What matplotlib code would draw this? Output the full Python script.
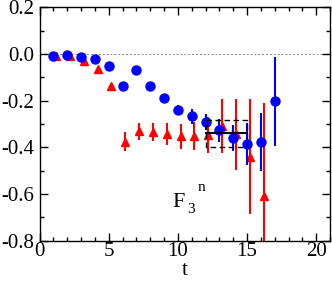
import matplotlib
matplotlib.use("Agg")
import matplotlib.pyplot as plt
from matplotlib.ticker import MultipleLocator, FuncFormatter

plt.rcParams['font.family'] = ['Liberation Serif', 'DejaVu Serif']

t_blue = [1, 2, 3, 4, 5, 6, 7, 8, 9, 10, 11, 12, 13, 14, 15, 16, 17]
y_blue = [-0.006, -0.002, -0.011, -0.021, -0.049, -0.137, -0.067, -0.137, -0.19, -0.239,
          -0.267, -0.29, -0.327, -0.361, -0.386, -0.376, -0.203]
e_blue = [0.004, 0.004, 0.005, 0.006, 0.007, 0.015, 0.01, 0.012, 0.016, 0.022,
          0.033, 0.035, 0.05, 0.055, 0.09, 0.125, 0.19]

t_red = [1.2, 2.2, 3.2, 4.2, 5.2, 6.2, 7.2, 8.2, 9.2, 10.2, 11.2, 12.2, 13.2, 14.2, 15.2, 16.2]
y_red = [-0.006, -0.01, -0.03, -0.063, -0.138, -0.376, -0.331, -0.334, -0.344, -0.353,
         -0.35, -0.346, -0.307, -0.343, -0.439, -0.61]
e_red = [0.003, 0.004, 0.005, 0.006, 0.008, 0.04, 0.036, 0.04, 0.047, 0.053,
         0.06, 0.078, 0.115, 0.152, 0.245, 0.4]

fit_t = [12, 15]
fit_val = -0.34
fit_hi = -0.284
fit_lo = -0.397

fig = plt.figure(figsize=(3.32, 2.81), dpi=100)
ax = fig.add_axes([0.119, 0.1434, 0.875, 0.83])

ax.axhline(0, color='#888888', lw=0.7, ls=(0, (2, 2)), zorder=1)

ax.errorbar(t_red, y_red, yerr=e_red, fmt='^', color='#ff0000', ms=6, mec='#ff0000',
            elinewidth=1.5, capsize=0, zorder=3)
ax.errorbar(t_blue, y_blue, yerr=e_blue, fmt='o', color='#0000ff', ms=6.5, mec='#0000ff',
            elinewidth=1.5, capsize=0, zorder=4)

ax.plot(fit_t, [fit_val, fit_val], color='black', lw=1.5, zorder=5)
ax.plot([fit_t[0], fit_t[1], fit_t[1], fit_t[0], fit_t[0]],
        [fit_hi, fit_hi, fit_lo, fit_lo, fit_hi], color='black', lw=1.0,
        ls=(0, (4, 2.5)), zorder=5)

ax.set_xlim(0, 21)
ax.set_ylim(-0.8, 0.2)
ax.xaxis.set_major_locator(MultipleLocator(5))
ax.xaxis.set_minor_locator(MultipleLocator(1))
ax.yaxis.set_major_locator(MultipleLocator(0.2))
ax.yaxis.set_minor_locator(MultipleLocator(0.1))
ax.tick_params(which='both', direction='in', top=True, right=True, labelsize=15)
ax.tick_params(axis='x', pad=1)
ax.tick_params(axis='y', pad=4)
ax.tick_params(which='major', length=6, width=1)
ax.tick_params(which='minor', length=3, width=1)
ax.yaxis.set_major_formatter(FuncFormatter(lambda v, p: f"{v:.1f}".replace("-0.0", "0.0")))
for s in ax.spines.values():
    s.set_linewidth(1.0)

fig.text(0.557, 0.003, 't', fontsize=15, ha='center', va='bottom')

ax.text(9.6, -0.656, 'F', fontsize=16, ha='left', va='baseline')
ax.text(10.7, -0.68, '3', fontsize=11, ha='left', va='baseline')
ax.text(11.4, -0.585, 'n', fontsize=11, ha='left', va='baseline')

fig.savefig('out.png', dpi=100)
